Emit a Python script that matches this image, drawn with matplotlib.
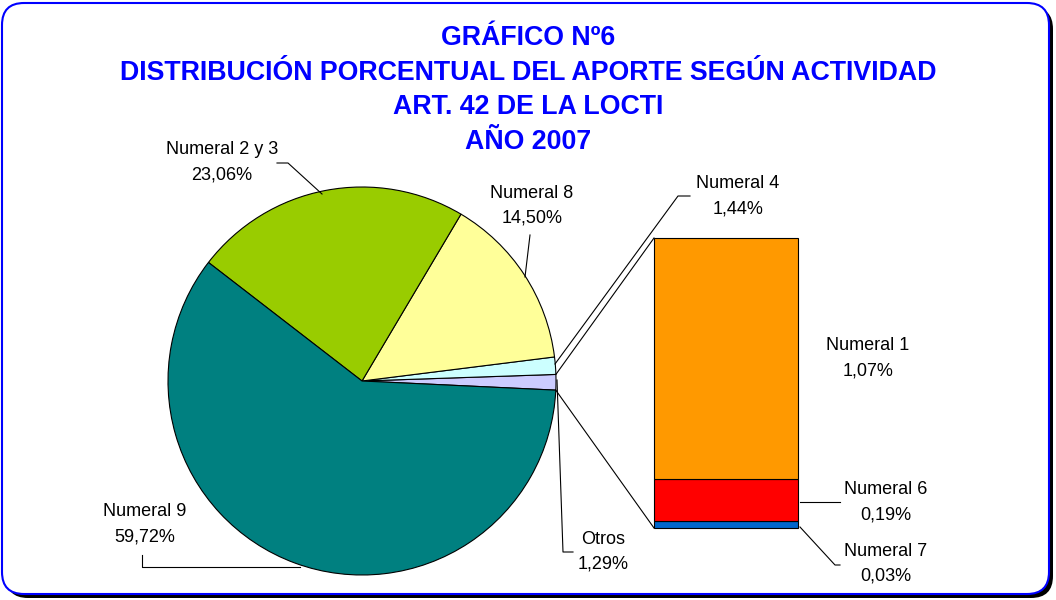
import matplotlib
matplotlib.use('Agg')
import matplotlib.pyplot as plt
from matplotlib.patches import FancyBboxPatch
import numpy as np

plt.rcParams['font.family'] = ['Liberation Sans', 'DejaVu Sans']

title_lines = ["GRÁFICO Nº6",
               "DISTRIBUCIÓN PORCENTUAL DEL APORTE SEGÚN ACTIVIDAD",
               "ART. 42 DE LA LOCTI",
               "AÑO 2007"]
pie_labels = ["Otros", "Numeral 4", "Numeral 8", "Numeral 2 y 3", "Numeral 9"]
pie_values = [1.29, 1.44, 14.50, 23.06, 59.72]
pie_colors = ["#CCCCFF", "#CCFFFF", "#FFFF99", "#99CC00", "#008080"]
bar_labels = ["Numeral 7", "Numeral 6", "Numeral 1"]
bar_values = [0.03, 0.19, 1.07]
bar_colors = ["#0066CC", "#FF0000", "#FF9900"]


def fmt(v):
    return f"{v:.2f}".replace('.', ',') + '%'


W, H = 1056, 600
fig = plt.figure(figsize=(W / 100, H / 100), dpi=100)
ax = fig.add_axes([0, 0, 1, 1])


def Y(yp):
    return H - yp


# frame with shadow
shadow = FancyBboxPatch((6, Y(598)), 1047, 591, boxstyle="round,pad=0,rounding_size=22",
                        facecolor='black', edgecolor='black', lw=0, zorder=0)
ax.add_patch(shadow)
frame = FancyBboxPatch((2, Y(594)), 1047, 591, boxstyle="round,pad=0,rounding_size=22",
                       facecolor='white', edgecolor='#0000FF', lw=1.5, zorder=1)
ax.add_patch(frame)

# pie
cx, cy, R = 362, Y(381), 194
start = -2.7
wedges, _ = ax.pie(pie_values, colors=pie_colors, startangle=start, counterclock=True,
                   center=(cx, cy), radius=R,
                   wedgeprops=dict(edgecolor='black', linewidth=0.8, zorder=3))
for w in wedges:
    w.set_zorder(3)

# bar of "Otros"
bx, bw = 726, 144
btop, bbot = Y(238), Y(528)
scale = (btop - bbot) / sum(bar_values)
bottom = bbot
for v, c in zip(bar_values, bar_colors):
    ax.bar(bx, v * scale, width=bw, bottom=bottom, color=c, edgecolor='black', linewidth=0.8, zorder=3)
    bottom += v * scale

ax.set_xlim(0, W)
ax.set_ylim(0, H)
ax.axis('off')

# connector lines from Otros wedge to bar
tot = sum(pie_values)
a1 = np.deg2rad(start)
a2 = np.deg2rad(start + pie_values[0] / tot * 360)
ax.plot([cx + R * np.cos(a2), bx - bw / 2], [cy + R * np.sin(a2), btop], color='black', lw=0.8, zorder=4)
ax.plot([cx + R * np.cos(a1), bx - bw / 2], [cy + R * np.sin(a1), bbot], color='black', lw=0.8, zorder=4)

# leader lines
leaders = [
    [(322, 194), (288, 163), (277, 163)],
    [(525, 277), (530, 235)],
    [(555, 364), (678, 196), (690, 196)],
    [(557, 380), (563, 552), (573, 552)],
    [(800, 502), (840, 502)],
    [(800, 527), (835, 565), (840, 565)],
    [(300, 567), (142, 567), (142, 555)],
]
for pts in leaders:
    xs = [p[0] for p in pts]
    ys = [Y(p[1]) for p in pts]
    ax.plot(xs, ys, color='black', lw=0.8, zorder=4)

# title
for t, yp in zip(title_lines, [38, 73, 107, 142]):
    ax.text(528, Y(yp), t, ha='center', va='center', fontsize=19.3, fontweight='bold',
            color='#0000FF', zorder=5)

# labels
label_pos = {
    "Numeral 2 y 3": (222, 150),
    "Numeral 8": (532, 193),
    "Numeral 4": (738, 184),
    "Otros": (603, 539),
    "Numeral 9": (145, 512),
    "Numeral 1": (868, 346),
    "Numeral 6": (886, 490),
    "Numeral 7": (886, 551),
}
vals = dict(zip(pie_labels, pie_values))
vals.update(dict(zip(bar_labels, bar_values)))
for name, (xp, yp) in label_pos.items():
    ax.text(xp, Y(yp), name, ha='center', va='center', fontsize=13, color='black', zorder=5)
    ax.text(xp, Y(yp + 25), fmt(vals[name]), ha='center', va='center', fontsize=13,
            color='black', zorder=5)

fig.savefig('out.png', dpi=100)
